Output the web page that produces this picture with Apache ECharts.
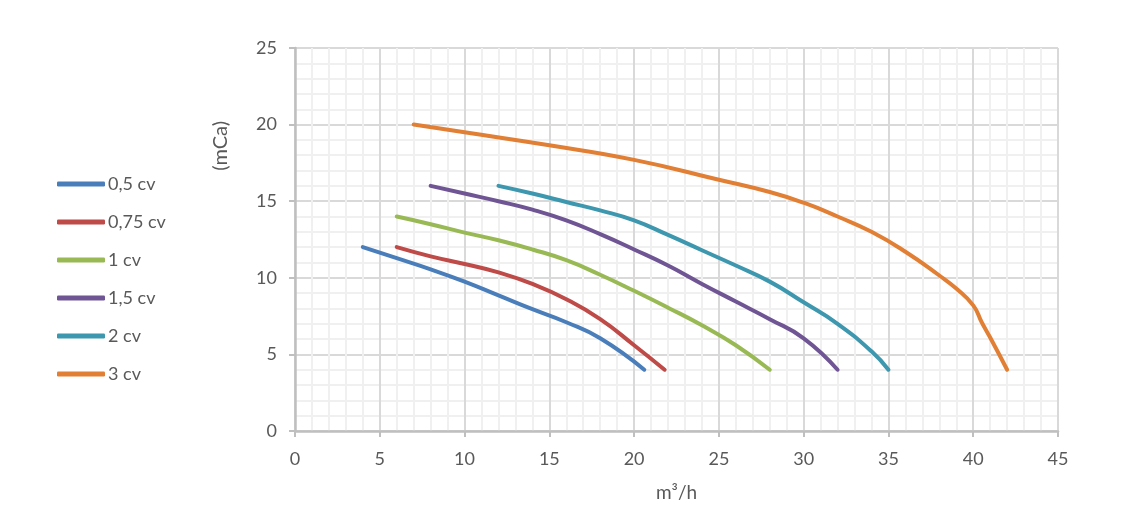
<!DOCTYPE html>
<html><head><meta charset="utf-8">
<script src="https://cdn.jsdelivr.net/npm/echarts@6/dist/echarts.min.js"></script>
<style>html,body{margin:0;padding:0;background:#fff}#c{width:1127px;height:519px}</style>
</head><body><div id="c"></div>
<script>
const seriesNames = ['0,5 cv', '0,75 cv', '1 cv', '1,5 cv', '2 cv', '3 cv'];
const s05 = [[4,12],[6,11.28],[8,10.55],[10,9.75],[12,8.85],[14,7.95],[16,7.1],[18,6.05],[20.6,4]];
const s075 = [[6,12],[8,11.4],[10,10.9],[12,10.35],[14,9.6],[16,8.6],[18,7.3],[20,5.6],[21.8,4]];
const s1 = [[6,14],[8,13.5],[10,12.95],[12,12.45],[14,11.85],[16,11.15],[18,10.2],[20,9.15],[22,8.05],[24,6.9],[26,5.6],[28,4]];
const s15 = [[8,16],[10,15.5],[12,15],[14,14.45],[16,13.75],[18,12.85],[20,11.85],[22,10.8],[24,9.6],[26,8.45],[28,7.3],[30,6.05],[32,4]];
const s2 = [[12,16],[14,15.5],[16,14.95],[18,14.4],[20,13.75],[22,12.8],[24,11.8],[26,10.8],[28,9.75],[30,8.4],[32,7.0],[34,5.2],[35,4]];
const s3 = [[7,20],[10,19.5],[15,18.65],[20,17.7],[25,16.4],[28,15.6],[30,14.9],[32,14.0],[34,13.0],[36,11.7],[38,10.15],[39,9.3],[40,8.2],[40.5,7.1],[41,6.1],[42,4]];
const allData = [s05, s075, s1, s15, s2, s3];
const colors = ['#4a7ebb', '#be4b48', '#98b954', '#6f5593', '#3d97ae', '#e17f35'];
const xName = 'm³/h';
const yName = '(mCa)';

const font = 'Lato, "Open Sans", sans-serif';
const chart = echarts.init(document.getElementById('c'));
chart.setOption({
  animation: false,
  color: colors,
  grid: {left: 295, right: 69, top: 48, bottom: 88},
  legend: {
    orient: 'vertical', left: 52, top: 170,
    icon: 'roundRect', itemWidth: 48, itemHeight: 5, itemGap: 20,
    textStyle: {fontFamily: font, fontSize: 18, color: '#595959', padding: [0,0,0,-2]},
    data: seriesNames
  },
  xAxis: {
    type: 'value', min: 0, max: 45, interval: 5,
    name: xName, nameLocation: 'middle', nameGap: 52,
    nameTextStyle: {fontFamily: font, fontSize: 19, color: '#595959'},
    axisLine: {show: true, lineStyle: {color: '#bfbfbf', width: 2.5}},
    axisTick: {show: true, length: 6, lineStyle: {color: '#bfbfbf', width: 2}},
    axisLabel: {fontFamily: font, fontSize: 18, color: '#595959', margin: 19},
    splitLine: {show: true, lineStyle: {color: '#d9d9d9', width: 2}},
    minorTick: {show: false, splitNumber: 5},
    minorSplitLine: {show: true, lineStyle: {color: '#f0f0f0', width: 2}}
  },
  yAxis: {
    type: 'value', min: 0, max: 25, interval: 5,
    axisLine: {show: true, lineStyle: {color: '#bfbfbf', width: 2.5}},
    axisTick: {show: true, length: 6, lineStyle: {color: '#bfbfbf', width: 2}},
    axisLabel: {fontFamily: font, fontSize: 18, color: '#595959', margin: 18},
    splitLine: {show: true, lineStyle: {color: '#d9d9d9', width: 2}},
    minorTick: {show: false, splitNumber: 5},
    minorSplitLine: {show: true, lineStyle: {color: '#f0f0f0', width: 2}}
  },
  graphic: [{
    type: 'text', left: 211, top: 121, rotation: Math.PI / 2,
    style: {text: yName, font: '20px ' + font, fill: '#595959'}
  }],
  series: allData.map((d, i) => ({
    name: seriesNames[i], type: 'line', data: d,
    smooth: 0.5, symbol: 'none',
    lineStyle: {width: 4, cap: 'round', color: colors[i]},
    itemStyle: {color: colors[i]}
  }))
});
</script></body></html>
